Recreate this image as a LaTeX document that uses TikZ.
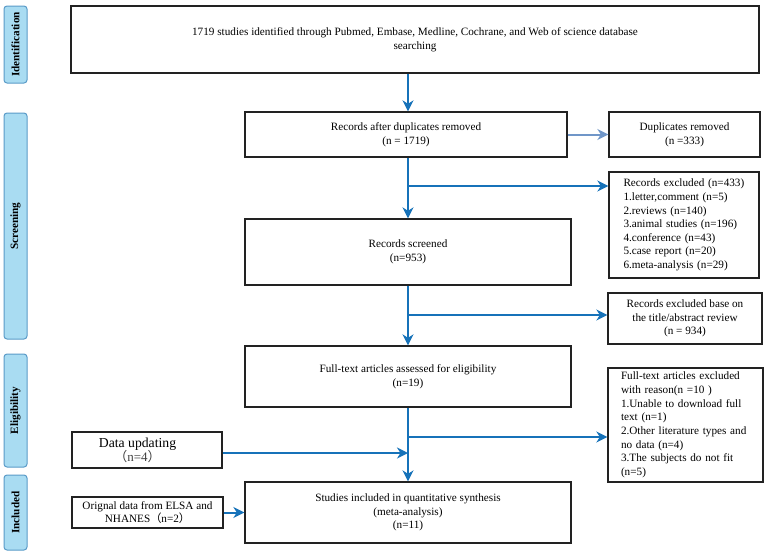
\documentclass[tikz,border=0pt]{standalone}
\usepackage{fontspec}
\setmainfont{Liberation Serif}
\newfontfamily\cjk{Noto Sans CJK SC}
\usetikzlibrary{arrows.meta,positioning,calc}
\definecolor{arrblue}{HTML}{1672B9}
\definecolor{lightarr}{HTML}{7096C8}
\definecolor{sidefill}{HTML}{A9DCF2}
\definecolor{sideline}{HTML}{5A9BC8}
\definecolor{boxline}{HTML}{222222}
\tikzset{
  box/.style={draw=boxline,line width=1.3pt,fill=white,inner sep=0pt,align=center,
    font=\fontsize{11.2}{13.7}\selectfont},
  lbox/.style={box,align=left,font=\fontsize{11.2}{13.65}\selectfont},
  sidebox/.style={draw=sideline,line width=1pt,fill=sidefill,rounded corners=3pt,inner sep=0pt,
    minimum width=23pt},
  sidelabel/.style={rotate=90,font=\bfseries\fontsize{11.2}{12}\selectfont},
  arr/.style={draw=arrblue,line width=2pt,-{Stealth[length=11pt,width=11pt,inset=3.5pt]},arrblue},
  arrl/.style={draw=lightarr,line width=2pt,-{Stealth[length=11pt,width=11pt,inset=3.5pt]},lightarr}
}
\begin{document}
\begin{tikzpicture}[x=1pt,y=-1pt]
\useasboundingbox (0,0) rectangle (767,555);
\fill[white] (0,0) rectangle (767,555);
% side labels
\node[sidebox,minimum height=77pt] (sid) at (15.5,44.5) {};
\node[sidelabel] (sidt) at (sid.center) {Identification};
\node[sidebox,minimum height=226pt] (sscr) at (15.5,226) {};
\node[sidelabel] (sscrt) at (sscr.center) {Screening};
\node[sidebox,minimum height=113pt] (sel) at (15.5,410.5) {};
\node[sidelabel] (selt) at (sel.center) {Eligibility};
\node[sidebox,minimum height=75pt] (sinc) at (15.5,512.5) {};
\node[sidelabel] (sinct) at (sinc.center) {Included};
% main boxes
\node[box,minimum width=688pt,minimum height=67pt] (top) at (415,39.5)
  {1719 studies identified through Pubmed, Embase, Medline, Cochrane, and Web of science database\\searching};
\node[box,minimum width=322pt,minimum height=45pt] (rec) at (406,134.5)
  {Records after duplicates removed\\(n = 1719)};
\node[box,minimum width=151pt,minimum height=45pt] (dup) at (684.5,134.5)
  {Duplicates removed\\(n =333)};
\node[lbox,text width=121pt,inner xsep=14.5pt,minimum height=106pt] (exc1) at (684,225)
  {Records excluded (n=433)\\1.letter,comment (n=5)\\2.reviews (n=140)\\3.animal studies (n=196)\\4.conference (n=43)\\5.case report (n=20)\\6.meta-analysis (n=29)};
\node[box,minimum width=326pt,minimum height=66pt] (scr) at (408,252)
  {Records screened\\(n=953)};
\node[box,minimum width=154pt,minimum height=51pt] (exc2) at (685,318.5)
  {Records excluded base on\\the title/abstract review\\(n = 934)};
\node[box,minimum width=326pt,minimum height=61pt] (full) at (408,376.5)
  {Full-text articles assessed for eligibility\\(n=19)};
\node[lbox,text width=129pt,inner xsep=13pt,minimum height=114pt] (exc3) at (685.5,425)
  {Full-text articles excluded\\with reason(n =10 )\\1.Unable to download full\\text (n=1)\\2.Other literature types and\\no data (n=4)\\3.The subjects do not fit\\(n=5)};
\node[box,minimum width=150pt,minimum height=36pt] (upd) at (147,450) {};
\node[align=center,inner sep=0pt] (updt) at (137.5,450.5)
  {{\fontsize{13.7}{14}\selectfont Data updating}\\[-1pt]{\fontsize{13}{14}\selectfont\color{black!75}{\cjk （}n=4{\cjk ）}}};
\node[box,minimum width=326pt,minimum height=61pt] (inc) at (408,512.5)
  {Studies included in quantitative synthesis\\(meta-analysis)\\(n=11)};
\node[box,minimum width=151pt,minimum height=31pt] (orig) at (147.5,512.5)
  {Orignal data from ELSA and\\NHANES{\cjk （}n=2{\cjk ）}};
% connectors
\coordinate (t1) at (408,73);
\path (rec.north -| t1) coordinate (r1) (rec.south -| t1) coordinate (r2);
\draw[arr] (top.south -| t1) -- (r1);
\draw[arrl] (rec.east) -- (dup.west);
\coordinate (b1) at (408,186);
\draw[arr] (r2) -- (scr.north -| r2);
\draw[arr] (b1) -- (b1 -| exc1.west);
\coordinate (b2) at (408,315);
\draw[arr] (scr.south -| r2) -- (full.north -| r2);
\draw[arr] (b2) -- (b2 -| exc2.west);
\coordinate (b3) at (408,437);
\coordinate (b4) at (408,453);
\draw[arr] (full.south -| r2) -- (inc.north -| r2);
\draw[arr] (b3) -- (b3 -| exc3.west);
\draw[arr] (upd.east |- b4) -- (b4);
\draw[arr] (orig.east) -- (orig.east -| inc.west);
\end{tikzpicture}
\end{document}
